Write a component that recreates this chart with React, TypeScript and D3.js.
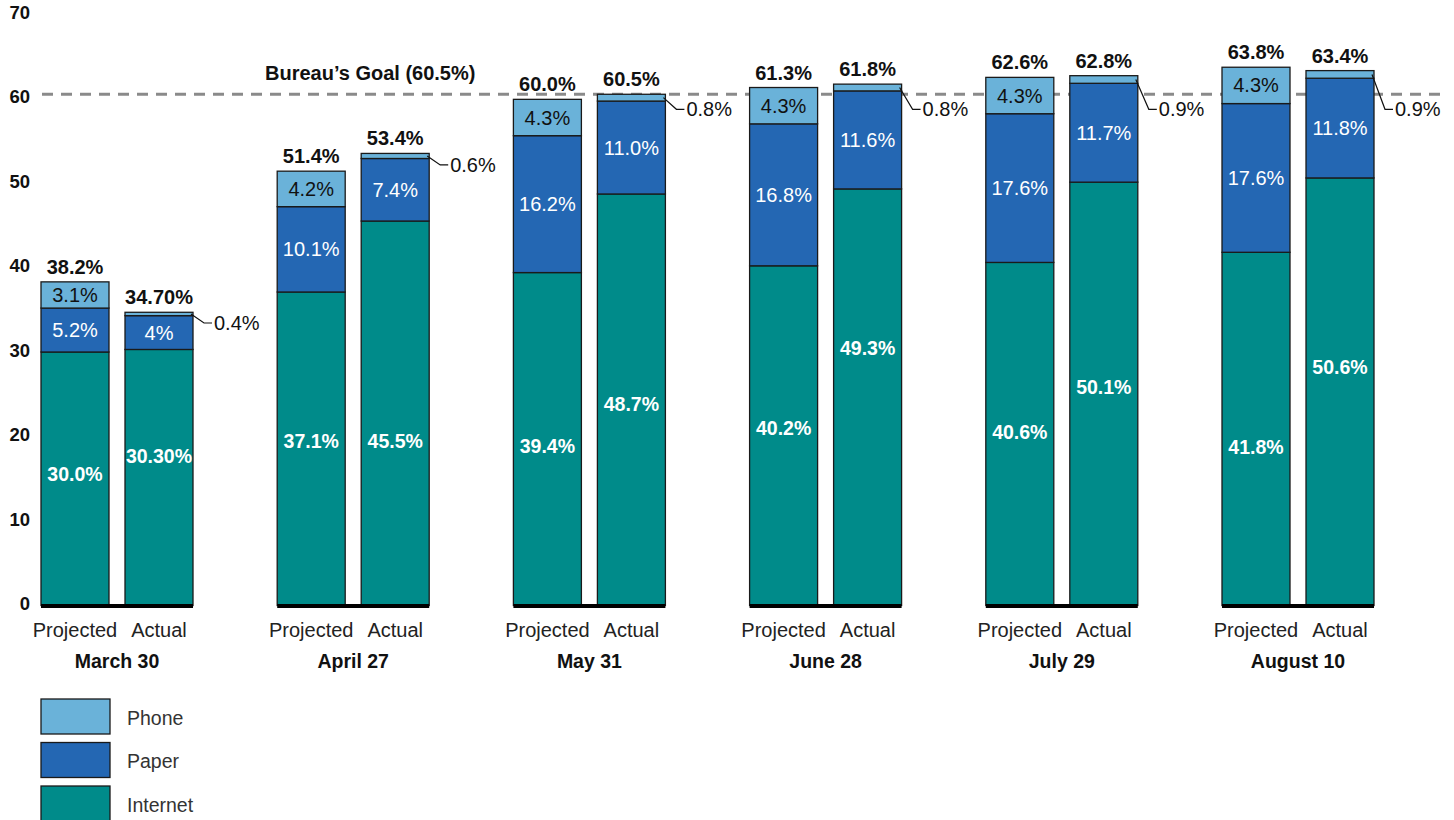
import * as d3 from "d3";

const W = 1454;
const H = 820;

const dates = ["March 30", "April 27", "May 31", "June 28", "July 29", "August 10"];
const kinds = ["Projected", "Actual"];
const modes = ["Internet", "Paper", "Phone"];

// projected response rates (%)
const projInternet = [30.0, 37.1, 39.4, 40.2, 40.6, 41.8];
const projPaper = [5.2, 10.1, 16.2, 16.8, 17.6, 17.6];
const projPhone = [3.1, 4.2, 4.3, 4.3, 4.3, 4.3];
const projTotal = ["38.2%", "51.4%", "60.0%", "61.3%", "62.6%", "63.8%"];

// actual response rates (%)
const actInternet = [30.3, 45.5, 48.7, 49.3, 50.1, 50.6];
const actPaper = [4, 7.4, 11.0, 11.6, 11.7, 11.8];
const actPhone = [0.4, 0.6, 0.8, 0.8, 0.9, 0.9];
const actTotal = ["34.70%", "53.4%", "60.5%", "61.8%", "62.8%", "63.4%"];

const internetText = {
  Projected: ["30.0%", "37.1%", "39.4%", "40.2%", "40.6%", "41.8%"],
  Actual: ["30.30%", "45.5%", "48.7%", "49.3%", "50.1%", "50.6%"],
};
const paperText = {
  Projected: ["5.2%", "10.1%", "16.2%", "16.8%", "17.6%", "17.6%"],
  Actual: ["4%", "7.4%", "11.0%", "11.6%", "11.7%", "11.8%"],
};
const phoneText = {
  Projected: ["3.1%", "4.2%", "4.3%", "4.3%", "4.3%", "4.3%"],
  Actual: ["0.4%", "0.6%", "0.8%", "0.8%", "0.9%", "0.9%"],
};

// where the internet labels sit, in % units
const internetLabelAt = {
  Projected: [15.6, 19.5, 18.9, 21, 20.5, 18.8],
  Actual: [17.7, 19.5, 23.8, 30.5, 25.9, 28.2],
};

const goal = 60.5;
const yTicks = [0, 10, 20, 30, 40, 50, 60, 70];

const colors: Record<string, string> = {
  Internet: "#008B8A",
  Paper: "#2467B3",
  Phone: "#6AB2D9",
};

const FONT = "'Liberation Sans', Arial, sans-serif";

type Row = { date: string; kind: string; i: number; Internet: number; Paper: number; Phone: number };

const rows: Row[] = [];
dates.forEach((date, i) => {
  rows.push({ date, kind: "Projected", i, Internet: projInternet[i], Paper: projPaper[i], Phone: projPhone[i] });
  rows.push({ date, kind: "Actual", i, Internet: actInternet[i], Paper: actPaper[i], Phone: actPhone[i] });
});

const stacked = d3.stack<Row>().keys(modes)(rows);

const y = d3.scaleLinear().domain([0, 70]).range([605.5, 14]);
const xGroup = d3.scalePoint<string>().domain(dates).range([117, 1298]);
const xKind = d3.scaleBand<string>().domain(kinds).range([-76, 76]).paddingInner(16 / 84);
const bw = xKind.bandwidth();

export default function App() {
  const barX = (r: Row) => (xGroup(r.date) as number) + (xKind(r.kind) as number);
  const labelGoalY = y(goal) + 15;

  return (
    <svg
      width={W}
      height={H}
      style={{ position: "absolute", left: 0, top: 0, background: "#fff" }}
      fontFamily={FONT}
    >
      {/* y axis labels */}
      {yTicks.map((t) => (
        <text key={t} x={30} y={y(t) + 4.5} textAnchor="end" fontSize={18.5} fontWeight="bold" fill="#111">
          {t}
        </text>
      ))}

      {/* goal line */}
      <line
        x1={42}
        x2={1445}
        y1={y(goal)}
        y2={y(goal)}
        stroke="#8a8a8a"
        strokeWidth={3}
        strokeDasharray="11 8"
      />
      <text x={265} y={80} fontSize={20} fontWeight="bold" fill="#111">
        Bureau’s Goal (60.5%)
      </text>

      {/* bars */}
      {stacked.map((layer) =>
        layer.map((d, j) => {
          const r = d.data;
          return (
            <rect
              key={layer.key + j}
              x={barX(r)}
              y={y(d[1])}
              width={bw}
              height={y(d[0]) - y(d[1])}
              fill={colors[layer.key]}
              stroke="#1a1a1a"
              strokeWidth={1.3}
            />
          );
        })
      )}

      {/* baselines */}
      {dates.map((d) => (
        <line
          key={d}
          x1={(xGroup(d) as number) - 76}
          x2={(xGroup(d) as number) + 76}
          y1={y(0) + 0.5}
          y2={y(0) + 0.5}
          stroke="#000"
          strokeWidth={4}
        />
      ))}

      {/* segment labels */}
      {rows.map((r, j) => {
        const cx = barX(r) + bw / 2;
        const k = r.kind as "Projected" | "Actual";
        const paper = stacked[1][j];
        const phone = stacked[2][j];
        const phoneMid = (y(phone[0]) + y(phone[1])) / 2;
        const right = barX(r) + bw;
        const ly = Math.max(phoneMid + 9, labelGoalY);
        return (
          <g key={"lab" + j}>
            <text
              x={cx}
              y={y(internetLabelAt[k][r.i]) + 7}
              textAnchor="middle"
              fontSize={19.5}
              fontWeight="bold"
              fill="#fff"
            >
              {internetText[k][r.i]}
            </text>
            <text
              x={cx}
              y={(y(paper[0]) + y(paper[1])) / 2 + 7}
              textAnchor="middle"
              fontSize={20}
              fill="#fff"
            >
              {paperText[k][r.i]}
            </text>
            {k === "Projected" ? (
              <text x={cx} y={phoneMid + 7} textAnchor="middle" fontSize={20} fill="#111">
                {phoneText[k][r.i]}
              </text>
            ) : (
              <g>
                <polyline
                  points={`${right - 2},${phoneMid} ${right + 11},${ly} ${right + 19},${ly}`}
                  fill="none"
                  stroke="#111"
                  strokeWidth={1.2}
                />
                <text x={right + 21} y={ly + 7} fontSize={20} fill="#111">
                  {phoneText[k][r.i]}
                </text>
              </g>
            )}
            <text
              x={cx}
              y={y(phone[1]) - 8}
              textAnchor="middle"
              fontSize={20}
              fontWeight="bold"
              fill="#111"
            >
              {k === "Projected" ? projTotal[r.i] : actTotal[r.i]}
            </text>
            <text x={cx} y={637} textAnchor="middle" fontSize={20} fill="#222">
              {r.kind}
            </text>
          </g>
        );
      })}

      {/* group labels */}
      {dates.map((d) => (
        <text key={d} x={xGroup(d) as number} y={668} textAnchor="middle" fontSize={19.5} fontWeight="bold" fill="#111">
          {d}
        </text>
      ))}

      {/* legend */}
      {["Phone", "Paper", "Internet"].map((m, i) => (
        <g key={m} transform={`translate(41,${699 + i * 43.5})`}>
          <rect width={69} height={35} fill={colors[m]} stroke="#1a1a1a" strokeWidth={1.3} />
          <text x={86} y={25.5} fontSize={19.5} fill="#333">
            {m}
          </text>
        </g>
      ))}
    </svg>
  );
}
